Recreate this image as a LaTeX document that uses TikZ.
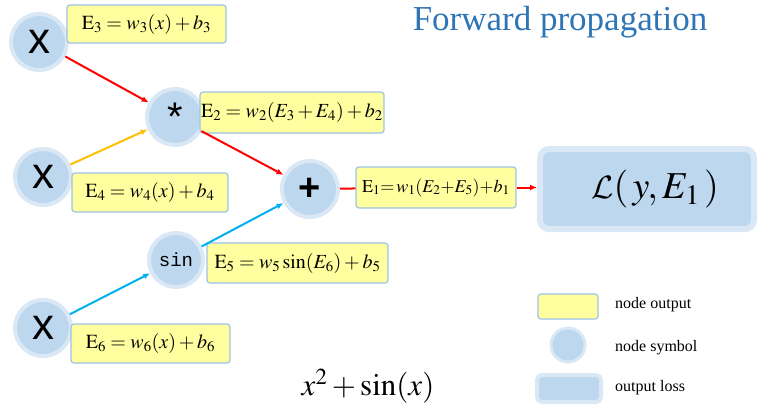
\documentclass[tikz,border=0pt]{standalone}
\usepackage{amsmath}
\usepackage{mathptmx}
\usepackage[no-math]{fontspec}
\setmainfont{Liberation Serif}
\setsansfont{Liberation Sans}
\setmonofont{Liberation Mono}
\usepackage{tikz}
\usetikzlibrary{arrows.meta}
\usepackage{xcolor}
\DeclareMathAlphabet{\mathcalcm}{OMS}{cmsy}{m}{n}

\definecolor{outfill}{HTML}{FFFF9F}
\definecolor{outline}{HTML}{9DC3E6}
\definecolor{symfill}{HTML}{BDD7EE}
\definecolor{symring}{HTML}{DAE7F4}
\definecolor{edgered}{HTML}{FF0000}
\definecolor{edgeorange}{HTML}{FFC000}
\definecolor{edgeblue}{HTML}{00B0F0}
\definecolor{titleblue}{HTML}{2E75B6}

\begin{document}
\begin{tikzpicture}[
  x=1pt, y=-1pt,
  sym/.style={circle, fill=symfill, draw=symring, line width=4pt, minimum size=56pt, inner sep=0pt},
  outbox/.style={rectangle, rounded corners=3pt, fill=outfill, draw=outline, line width=1.2pt,
    inner sep=0pt, font=\fontsize{20}{22}\selectfont},
  lossbox/.style={rectangle, rounded corners=9pt, fill=symfill, draw=symring, line width=6pt},
  legtext/.style={anchor=west, inner sep=0pt, font=\fontsize{16}{18}\selectfont},
  edge/.style={line width=2pt, -{Latex[length=7pt, width=6pt]}}
]
  \useasboundingbox (0,0) rectangle (762,407);

  % --- nodes: symbols ---
  \node[sym] (x3) at (39,42) {\sffamily\fontsize{44}{44}\selectfont x};
  \node[sym] (mul) at (175,117) {\sffamily\fontsize{40}{40}\selectfont *};
  \node[sym] (x4) at (43,177) {\sffamily\fontsize{44}{44}\selectfont x};
  \node[sym] (add) at (310,189) {\sffamily\bfseries\fontsize{38}{38}\selectfont +};
  \node[sym, minimum size=54pt] (sin) at (176,260) {\ttfamily\fontsize{19}{19}\selectfont sin};
  \node[sym] (x6) at (43,328) {\sffamily\fontsize{44}{44}\selectfont x};

  % --- nodes: outputs ---
  \node[outbox, minimum width=159pt, minimum height=38pt] (e3) at (146.5,24) {$\mathrm{E}_3 = w_3(x)+b_3$};
  \node[outbox, minimum width=184pt, minimum height=41pt] (e2) at (292,112.5) {$\mathrm{E}_2 = w_2(E_3+E_4)+b_2$};
  \node[outbox, minimum width=156pt, minimum height=39pt] (e4) at (150,192.5) {$\mathrm{E}_4 = w_4(x)+b_4$};
  \node[outbox, minimum width=160pt, minimum height=41pt, font=\fontsize{18}{20}\selectfont] (e1) at (436,187.5) {$\mathrm{E}_1 {=}\, w_1(E_2{+}E_5){+}b_1$};
  \node[outbox, minimum width=181pt, minimum height=40pt] (e5) at (297.5,263) {$\mathrm{E}_5 = w_5\sin(E_6)+b_5$};
  \node[outbox, minimum width=159pt, minimum height=39pt] (e6) at (150.5,343.5) {$\mathrm{E}_6 = w_6(x)+b_6$};
  \node[lossbox, minimum width=214pt, minimum height=80pt] (loss) at (647,189) {};
  \node[font=\fontsize{38}{38}\selectfont] (losstext) at (655,189) {$\scalebox{1.3}{$\mathcalcm{L}$}(\,y, E_1\,)$};

  % --- texts ---
  \node[text=titleblue, font=\fontsize{35}{35}\selectfont] (title) at (560,22) {Forward propagation};
  \node[font=\fontsize{31}{31}\selectfont] (expr) at (368,386) {$x^2+\sin(x)$};

  % --- edges ---
  \draw[edge, edgered] (x3) -- (mul);
  \draw[edge, edgeorange] (x4) -- (mul);
  \draw[edge, edgered] (mul) -- (add);
  \draw[edge, edgeblue] (sin) -- (add);
  \draw[edge, edgeblue] (x6) -- (sin);
  \draw[line width=2pt, edgered] (add) -- (e1);
  \draw[edge, edgered] (e1.east) -- (e1.east -| loss.west);

  % --- legend ---
  \node[outbox, minimum width=60pt, minimum height=25pt] (legout) at (568,306.5) {};
  \node[legtext] (legouttext) at (615,305) {node output};
  \node[sym, minimum size=34pt, line width=3pt] (legsym) at (568,345) {};
  \node[legtext] (legsymtext) at (615,348) {node symbol};
  \node[lossbox, line width=4pt, rounded corners=5pt, minimum width=64pt, minimum height=27pt] (legloss) at (569,388.5) {};
  \node[legtext] (leglosstext) at (615,388) {output loss};
\end{tikzpicture}
\end{document}
